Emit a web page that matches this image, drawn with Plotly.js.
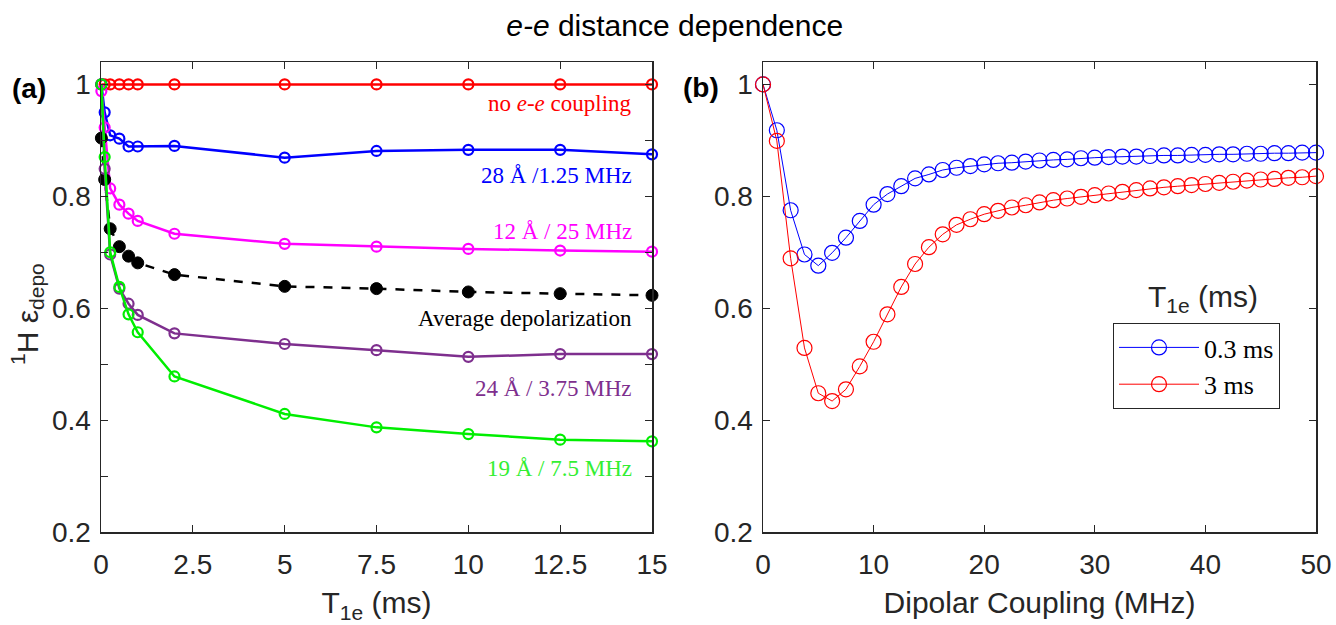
<!DOCTYPE html>
<html><head><meta charset="utf-8">
<script src="https://cdn.plot.ly/plotly-3.0.1.min.js"></script>
<style>html,body{margin:0;padding:0;background:#fff}#c{width:1336px;height:625px}</style>
</head><body><div id="c"></div>
<script>
// Panel (a): T1e (ms)
const t1e = [0.01, 0.1, 0.25, 0.5, 0.75, 1, 2, 5, 7.5, 10, 12.5, 15];
const noCoupling = [1, 1, 1, 1, 1, 1, 1, 1, 1, 1, 1, 1];
const d28 = [1.0, 0.95, 0.909, 0.903, 0.889, 0.889, 0.890, 0.869, 0.881, 0.883, 0.883, 0.875];
const d12 = [0.988, 0.923, 0.814, 0.785, 0.769, 0.756, 0.733, 0.715, 0.710, 0.706, 0.703, 0.701];
const avgDepo = [0.904, 0.830, 0.742, 0.710, 0.693, 0.681, 0.660, 0.639, 0.635, 0.629, 0.626, 0.623];
const d24 = [1.0, 0.849, 0.696, 0.635, 0.608, 0.588, 0.555, 0.536, 0.525, 0.513, 0.518, 0.518];
const d19 = [1.0, 0.87, 0.70, 0.638, 0.589, 0.557, 0.478, 0.411, 0.387, 0.375, 0.365, 0.362];

// Panel (b): dipolar coupling (MHz)
const dipolar = [0,1.25,2.5,3.75,5,6.25,7.5,8.75,10,11.25,12.5,13.75,15,16.25,17.5,18.75,20,21.25,22.5,23.75,25,26.25,27.5,28.75,30,31.25,32.5,33.75,35,36.25,37.5,38.75,40,41.25,42.5,43.75,45,46.25,47.5,48.75,50];
const t03 = [1.0,0.918,0.775,0.696,0.676,0.699,0.726,0.756,0.785,0.804,0.818,0.832,0.839,0.847,0.851,0.854,0.857,0.859,0.860,0.862,0.864,0.865,0.866,0.868,0.869,0.870,0.871,0.871,0.872,0.873,0.873,0.874,0.874,0.875,0.875,0.876,0.876,0.877,0.877,0.878,0.878];
const t3 = [1.0,0.899,0.689,0.529,0.448,0.434,0.455,0.496,0.540,0.589,0.638,0.679,0.709,0.732,0.749,0.759,0.768,0.774,0.780,0.784,0.789,0.793,0.796,0.799,0.802,0.805,0.808,0.811,0.814,0.816,0.818,0.820,0.822,0.824,0.826,0.828,0.830,0.831,0.833,0.834,0.836];

const xTicksA = [0, 2.5, 5, 7.5, 10, 12.5, 15];
const xTickTextA = ['0','2.5','5','7.5','10','12.5','15'];
const yTicks = [0.2, 0.4, 0.6, 0.8, 1];
const yTickText = ['0.2','0.4','0.6','0.8','1'];

const SANS = 'Liberation Sans, Arial, sans-serif';
const SERIF = 'Liberation Serif, Times New Roman, serif';
const AX = '#262626';

function seriesA(y, color, filled, dash) {
  return {
    x: t1e, y: y, xaxis: 'x', yaxis: 'y', type: 'scatter', mode: 'lines+markers',
    showlegend: false, cliponaxis: false,
    line: {color: color, width: 2.5, dash: dash || 'solid'},
    marker: filled ? {symbol: 'circle', size: 12, color: color, line: {color: color, width: 1}}
                   : {symbol: 'circle-open', size: 10, color: color, line: {color: color, width: 2.2}}
  };
}

const traces = [
  seriesA(noCoupling, '#ff0000'),
  seriesA(d28, '#0000ff'),
  seriesA(d12, '#ff00ff'),
  seriesA(avgDepo, '#000000', true, 'dash'),
  seriesA(d24, '#7e2f8e'),
  seriesA(d19, '#00ee00'),
  {x: dipolar, y: t03, xaxis: 'x2', yaxis: 'y2', type: 'scatter', mode: 'lines+markers', name: '0.3 ms',
   cliponaxis: false, line: {color: '#0000ff', width: 1},
   marker: {symbol: 'circle-open', size: 15, color: '#0000ff', line: {color: '#0000ff', width: 1.2}}},
  {x: dipolar, y: t3, xaxis: 'x2', yaxis: 'y2', type: 'scatter', mode: 'lines+markers', name: '3 ms',
   cliponaxis: false, line: {color: '#ff0000', width: 1},
   marker: {symbol: 'circle-open', size: 15, color: '#ff0000', line: {color: '#ff0000', width: 1.2}}}
];

const axCommon = {
  showgrid: false, zeroline: false, showline: true, mirror: 'ticks', linecolor: AX, linewidth: 1.5,
  ticks: 'inside', ticklen: 7, tickcolor: AX, tickwidth: 1,
  tickfont: {family: SANS, size: 28, color: AX}
};

const yDom = [93/625, 563/625];

const annotations = [
  {text: 'no <i>e-e</i> coupling', color: '#ff0000', y: 103},
  {text: '28 Å /1.25 MHz', color: '#0000ff', y: 175},
  {text: '12 Å / 25 MHz', color: '#ff00ff', y: 232},
  {text: 'Average depolarization', color: '#000000', y: 318},
  {text: '24 Å / 3.75 MHz', color: '#7e2f8e', y: 389},
  {text: '19 Å / 7.5 MHz', color: '#33ee33', y: 468}
].map(a => ({
  text: a.text, xref: 'paper', yref: 'paper', x: 634/1336, y: 1 - a.y/625,
  xanchor: 'right', yanchor: 'middle', showarrow: false,
  font: {family: SERIF, size: 23, color: a.color}
}));

annotations.push(
  {text: '<b>(a)</b>', xref: 'paper', yref: 'paper', x: 10/1336, y: 1 - 89/625, xanchor: 'left', yanchor: 'middle',
   showarrow: false, font: {family: SANS, size: 28, color: '#000'}},
  {text: '<b>(b)</b>', xref: 'paper', yref: 'paper', x: 681/1336, y: 1 - 87/625, xanchor: 'left', yanchor: 'middle',
   showarrow: false, font: {family: SANS, size: 28, color: '#000'}},
  {text: 'T<sub>1e</sub> (ms)', xref: 'paper', yref: 'paper', x: 1203/1336, y: 1 - 298/625, xanchor: 'center', yanchor: 'middle',
   showarrow: false, font: {family: SANS, size: 30, color: AX}},
  {text: '<sup>1</sup>H ε<sub>depo</sub>', xref: 'paper', yref: 'paper', x: 27/1336, y: 1 - 314/625, xanchor: 'center', yanchor: 'middle',
   textangle: -90, showarrow: false, font: {family: SANS, size: 30, color: AX}}
);

const layout = {
  width: 1336, height: 625, margin: {l: 0, r: 0, t: 0, b: 0},
  paper_bgcolor: '#fff', plot_bgcolor: '#fff',
  title: {text: '<i>e-e</i> distance dependence', x: 0.505, xanchor: 'center', y: 1 - 25/625, yanchor: 'middle',
          font: {family: SANS, size: 30, color: '#000'}},
  xaxis: Object.assign({}, axCommon, {domain: [101/1336, 652/1336], range: [0, 15], anchor: 'y',
          tickvals: xTicksA, ticktext: xTickTextA, ticklabelstandoff: 7,
          title: {text: 'T<sub>1e</sub> (ms)', font: {family: SANS, size: 30, color: AX}, standoff: 13}}),
  yaxis: Object.assign({}, axCommon, {domain: yDom, range: [0.2, 1.04], anchor: 'x',
          tickvals: yTicks, ticktext: yTickText, ticklabelstandoff: 3,
          minor: {dtick: 0.1, tick0: 0, ticks: 'inside', ticklen: 7, tickcolor: AX, tickwidth: 1}}),
  xaxis2: Object.assign({}, axCommon, {domain: [763/1336, 1316/1336], range: [0, 50], anchor: 'y2',
          dtick: 10, tick0: 0, ticklabelstandoff: 7,
          title: {text: 'Dipolar Coupling (MHz)', font: {family: SANS, size: 30, color: AX}, standoff: 13}}),
  yaxis2: Object.assign({}, axCommon, {domain: yDom, range: [0.2, 1.04], anchor: 'x2',
          tickvals: yTicks, ticktext: yTickText, ticklabelstandoff: 3}),
  legend: {x: 1113/1336, y: 1 - 323/625, xanchor: 'left', yanchor: 'top', bgcolor: '#fff',
           bordercolor: AX, borderwidth: 1, itemwidth: 80,
           font: {family: SERIF, size: 26, color: '#000'}, tracegroupgap: 0},
  annotations: annotations,
  showlegend: true
};

Plotly.newPlot('c', traces, layout, {displayModeBar: false, staticPlot: true});
</script></body></html>
